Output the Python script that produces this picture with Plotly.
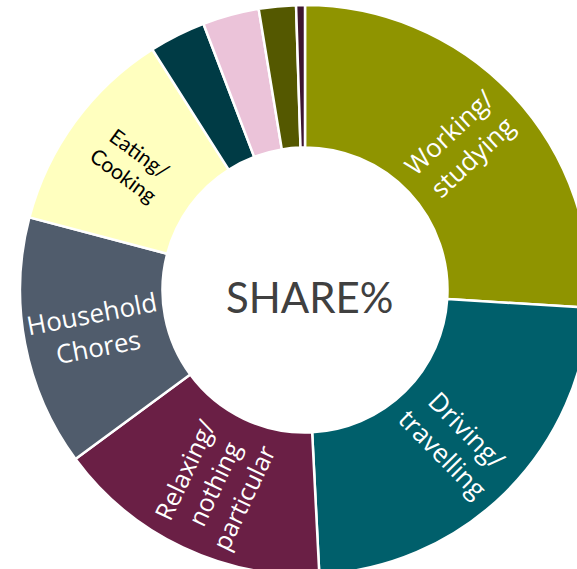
import math
import plotly.graph_objects as go

categories = ["Working/studying", "Driving/travelling", "Relaxing/nothing particular",
              "Household Chores", "Eating/Cooking", "Shopping", "Childcare",
              "Exercising", "Other"]
share_pct = [26.0, 23.2, 15.7, 14.2, 11.9, 3.2, 3.2, 2.1, 0.5]
slice_text = ["Working/<br>studying", "Driving/<br>travelling", "Relaxing/<br>nothing<br>particular",
              "Household<br>Chores", "Eating/<br>Cooking", "", "", "", ""]
colors = ["#8F9400", "#005F6B", "#6A1F45", "#505C6C", "#FFFFBF",
          "#003B45", "#EBC3D9", "#545800", "#3D1530"]
text_colors = ["white", "white", "white", "white", "black", "white", "white", "white", "white"]
text_sizes = [26, 26, 25, 26, 21, 10, 10, 10, 10]
text_fonts = ["Open Sans", "Open Sans", "Open Sans", "Open Sans", "Lato",
              "Open Sans", "Open Sans", "Open Sans", "Open Sans"]

W, H = 620, 610
cx, cy, R = 305, 290, 285
HOLE = 0.5

fig = go.Figure(go.Pie(
    labels=categories,
    values=share_pct,
    textinfo="none",
    sort=False,
    direction="clockwise",
    rotation=0,
    hole=HOLE,
    marker=dict(colors=colors, line=dict(color="white", width=2.5)),
    hoverinfo="label+percent",
    domain=dict(x=[(cx - R) / W, (cx + R) / W], y=[(H - cy - R) / H, (H - cy + R) / H]),
    showlegend=False,
))

# radial labels placed at the middle of each ring slice
total = sum(share_pct)
cum = 0.0
r_mid = R * (1 + HOLE) / 2
for v, t, col, sz, fam in zip(share_pct, slice_text, text_colors, text_sizes, text_fonts):
    theta = (cum + v / 2) / total * 360.0
    cum += v
    if not t:
        continue
    px = cx + r_mid * math.sin(math.radians(theta))
    py = cy - r_mid * math.cos(math.radians(theta))
    ang = theta - 90 if theta < 180 else theta - 270
    fig.add_annotation(
        x=px / W, y=1 - py / H, xref="paper", yref="paper",
        text=t, showarrow=False, textangle=ang,
        xanchor="center", yanchor="middle",
        font=dict(color=col, size=sz, family=fam),
    )

fig.add_annotation(
    x=(cx + 5) / W, y=1 - (cy + 7) / H, xref="paper", yref="paper",
    text="SHARE%", showarrow=False, xanchor="center", yanchor="middle",
    font=dict(family="Lato", size=42, color="#404040"),
)

fig.update_layout(
    width=W, height=H,
    margin=dict(l=0, r=0, t=0, b=0),
    paper_bgcolor="white",
    plot_bgcolor="white",
)

fig.write_html("out.html", config={"displayModeBar": False},
               post_script="document.body.style.margin='0';document.body.style.overflow='hidden';")
